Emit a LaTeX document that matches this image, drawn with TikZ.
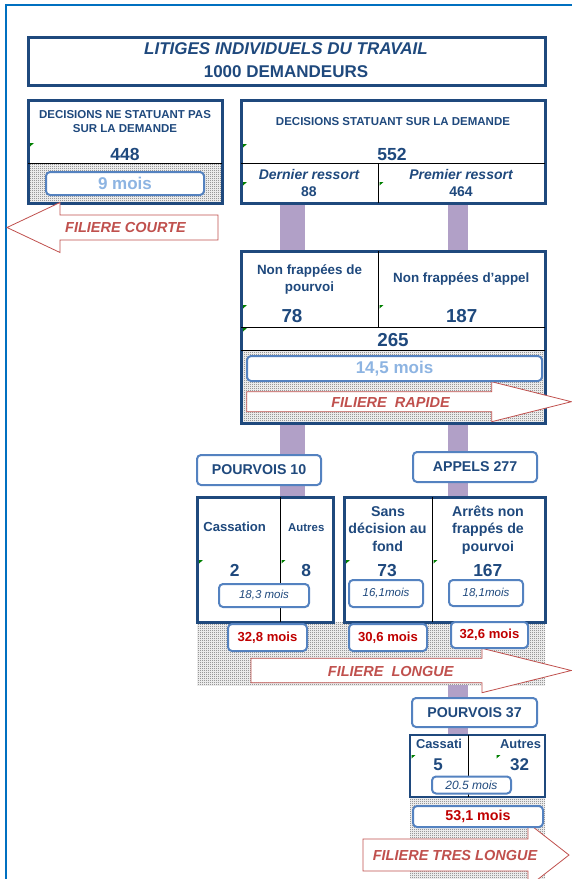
\documentclass[tikz,border=0pt]{standalone}
\usepackage{fontspec}
\setmainfont{Liberation Sans}
\usetikzlibrary{patterns}
\pgfdeclarelayer{bg}
\pgfsetlayers{bg,main}
\pgfdeclarepatternformonly{finecheck}{\pgfpointorigin}{\pgfqpoint{2pt}{2pt}}{\pgfqpoint{2pt}{2pt}}{%
  \pgfpathrectangle{\pgfpointorigin}{\pgfqpoint{1pt}{1pt}}%
  \pgfpathrectangle{\pgfqpoint{1pt}{1pt}}{\pgfqpoint{1pt}{1pt}}%
  \pgfusepath{fill}}
\definecolor{dblue}{RGB}{31,73,125}
\definecolor{mblue}{RGB}{84,130,192}
\definecolor{lblue}{RGB}{141,180,226}
\definecolor{arrred}{RGB}{192,80,77}
\definecolor{dred}{RGB}{192,0,0}
\definecolor{purp}{RGB}{177,160,199}
\definecolor{frameblue}{RGB}{0,112,192}
\definecolor{gmark}{RGB}{0,128,0}
\newcommand{\myfb}[1]{\fontsize{#1}{#1}\selectfont\bfseries}
\newcommand{\myfbi}[1]{\fontsize{#1}{#1}\selectfont\bfseries\itshape}
\newcommand{\myfit}[1]{\fontsize{#1}{#1}\selectfont\itshape}
\tikzset{
  bigbox/.style={draw=dblue, line width=3pt, inner sep=0pt, outer sep=0pt},
  thinline/.style={draw=black, line width=0.9pt},
  rbox/.style={draw=mblue, line width=2pt, rounded corners=4pt, fill=white, inner sep=0pt, outer sep=0pt},
  dotarea/.style={pattern=finecheck, pattern color=black!62, inner sep=0pt, outer sep=0pt},
  arrowshape/.style={draw=arrred, line width=0.8pt, fill=white, line join=miter},
  txt/.style={inner sep=0pt, outer sep=0pt, anchor=base, text=dblue},
  arrtxt/.style={inner sep=0pt, outer sep=0pt, anchor=base, text=arrred, font=\myfbi{14.5}},
  gm/.style={fill=gmark},
}
\begin{document}
\begin{tikzpicture}[x=1pt,y=-1pt]
\useasboundingbox (0,0) rectangle (572,879);
% frame
\draw[frameblue, line width=1.2pt] (6,879) -- (6,5) -- (572,5);

% ---------- boxes ----------
\node[bigbox, minimum width=517pt, minimum height=48pt] (title) at (286.5,61) {};
\node[bigbox, minimum width=194pt, minimum height=103pt] (lb) at (125,151.5) {};
\node[bigbox, minimum width=304pt, minimum height=103pt] (rb) at (393,151.5) {};
\node[bigbox, minimum width=304pt, minimum height=172pt] (b3) at (393,337) {};
\node[bigbox, minimum width=136pt, minimum height=125pt] (b4a) at (265,559.5) {};
\node[bigbox, minimum width=201pt, minimum height=125pt] (b4b) at (444.5,559.5) {};
\node[bigbox, line width=2pt, minimum width=135pt, minimum height=62pt] (b5) at (477.5,766) {};

% coordinates of the vertical links
\coordinate (cxL) at (292.5,0);
\coordinate (cxR) at (458,0);

\begin{pgfonlayer}{bg}
  \node[dotarea, minimum width=194pt, minimum height=40pt] (d1) at (125,183) {};
  \node[dotarea, minimum width=304pt, minimum height=73pt] (d3) at (393,386.5) {};
  \node[dotarea, minimum width=348pt, minimum height=63pt] (d4) at (371,653.5) {};
  \node[dotarea, minimum width=135pt, minimum height=82pt] (d5) at (477.5,838) {};
  \draw[purp, line width=25pt] (rb.south -| cxL) -- (b3.north -| cxL);
  \draw[purp, line width=25pt] (b3.south -| cxL) -- (b4a.north -| cxL);
  \draw[purp, line width=20pt] (rb.south -| cxR) -- (b3.north -| cxR);
  \draw[purp, line width=20pt] (b3.south -| cxR) -- (b4b.north -| cxR);
  \draw[purp, line width=20pt] (d4.south -| cxR) -- (b5.north -| cxR);
\end{pgfonlayer}

% inner lines
\draw[thinline] (28,163) -- (222,163);
\draw[thinline] (241,163) -- (545,163);
\draw[thinline] (378,163) -- (378,203);
\draw[thinline] (378,251) -- (378,327);
\draw[thinline] (241,327) -- (545,327);
\draw[thinline] (241,350) -- (545,350);
\draw[thinline] (280,497) -- (280,622);
\draw[thinline] (432,497) -- (432,622);
\draw[thinline] (468,735) -- (468,797);

% green markers
\foreach \gx/\gy in {30/143,243/144,243/182,379.5/182,243/305,379.5/305,243/328,199/560,281.5/560,346/560,433.5/560,411.5/755,496.5/755}
  \fill[gm] (\gx,\gy) -- ++(4,0) -- ++(-4,3.5) -- cycle;

% ---------- arrows ----------
\draw[arrowshape] (7,227.5) -- (60,202.5) -- (60,215) -- (218,215) -- (218,240) -- (60,240) -- (60,252.5) -- cycle;
\draw[arrowshape] (246.7,391.7) -- (491.7,391.7) -- (491.7,381.7) -- (571.3,401.7) -- (491.7,421.7) -- (491.7,411.7) -- (246.7,411.7) -- cycle;
\draw[arrowshape] (251,658.3) -- (482,658.3) -- (482,648.3) -- (571.3,670.5) -- (482,692.7) -- (482,682.7) -- (251,682.7) -- cycle;
\draw[arrowshape] (363,839) -- (528,839) -- (528,823) -- (569,855) -- (528,887) -- (528,871) -- (363,871) -- cycle;
\node[arrtxt] (fc) at (125.5,232.3) {FILIERE COURTE};
\node[arrtxt] (fr) at (390.5,407.3) {FILIERE~~RAPIDE};
\node[arrtxt] (fl) at (390.8,676) {FILIERE~~LONGUE};
\node[arrtxt] (ftl) at (455,860) {FILIERE TRES LONGUE};

% ---------- rounded boxes ----------
\node[rbox, minimum width=158pt, minimum height=23pt, text=lblue, font=\myfb{17}] (m9) at (125,183.5) {9 mois};
\node[rbox, minimum width=295pt, minimum height=25pt, text=lblue, font=\myfb{17}] (m145) at (394.5,368.5) {14,5 mois};
\node[rbox, minimum width=124pt, minimum height=30pt, text=dblue, font=\myfb{14.2}] (p10) at (259,470) {POURVOIS 10};
\node[rbox, minimum width=124pt, minimum height=30pt, text=dblue, font=\myfb{14.2}] (a277) at (475,467) {APPELS 277};
\node[rbox, minimum width=90pt, minimum height=23pt, text=dblue, font=\myfit{11.5}] (m183) at (264,595.5) {18,3 mois};
\node[rbox, minimum width=74pt, minimum height=27pt, text=dblue, font=\myfit{11.5}] (m161) at (386,593.5) {16,1mois};
\node[rbox, minimum width=74pt, minimum height=26pt, text=dblue, font=\myfit{11.5}] (m181) at (486,593) {18,1mois};
\node[rbox, minimum width=79pt, minimum height=27pt, text=dred, font=\myfb{13.1}] (m328) at (267.5,637.5) {32,8 mois};
\node[rbox, minimum width=78pt, minimum height=27pt, text=dred, font=\myfb{13.1}] (m306) at (388,637.5) {30,6 mois};
\node[rbox, minimum width=77pt, minimum height=26pt, text=dred, font=\myfb{13.1}] (m326) at (489.5,635) {32,6 mois};
\node[rbox, minimum width=125pt, minimum height=29pt, text=dblue, font=\myfb{14.2}] (p37) at (474.5,712.5) {POURVOIS 37};
\node[rbox, minimum width=79pt, minimum height=17pt, text=dblue, font=\myfit{12}, text depth=0pt, yshift=-1.5pt] (m205) at (471.5,783.5) {20.5 mois};
\node[rbox, minimum width=130pt, minimum height=21pt, text=dred, font=\myfb{14.3}] (m531) at (478,816.5) {53,1 mois};

% ---------- texts ----------
\node[txt, font=\myfbi{17}] (t1) at (286,54.3) {LITIGES INDIVIDUELS DU TRAVAIL};
\node[txt, font=\myfb{17}] (t2) at (286,77.7) {1000 DEMANDEURS};

\node[txt, font=\myfb{11.5}] (l1) at (125,118.3) {DECISIONS NE STATUANT PAS};
\node[txt, font=\myfb{11.5}] (l2) at (125,132.3) {SUR LA DEMANDE};
\node[txt, font=\myfb{17.5}] (l3) at (125,160) {448};

\node[txt, font=\myfb{11.5}] (r1) at (393,125) {DECISIONS STATUANT SUR LA DEMANDE};
\node[txt, font=\myfb{17.5}] (r2) at (392,160) {552};
\node[txt, font=\myfbi{14}] (r3) at (309,179) {Dernier ressort};
\node[txt, font=\myfb{14}] (r4) at (309,196) {88};
\node[txt, font=\myfbi{14}] (r5) at (461,179) {Premier ressort};
\node[txt, font=\myfb{14}] (r6) at (461,196) {464};

\node[txt, font=\myfb{13.4}] (n1) at (309.5,274.3) {Non frappées de};
\node[txt, font=\myfb{13.4}] (n2) at (309.5,291.7) {pourvoi};
\node[txt, font=\myfb{18.8}] (n3) at (292,322.3) {78};
\node[txt, font=\myfb{13.4}] (n4) at (461.3,282.3) {Non frappées d'appel};
\node[txt, font=\myfb{18.8}] (n5) at (461.7,322.3) {187};
\node[txt, font=\myfb{18.8}] (n6) at (393,346.7) {265};

\node[txt, font=\myfb{13.1}] (c1) at (234.7,531.7) {Cassation};
\node[txt, font=\myfb{11.4}] (c2) at (306.3,531.7) {Autres};
\node[txt, font=\myfb{17.4}] (c3) at (234.7,576) {2};
\node[txt, font=\myfb{17.4}] (c4) at (306.2,576) {8};

\node[txt, font=\myfb{14.2}] (s1) at (388,516) {Sans};
\node[txt, font=\myfb{14.2}] (s2) at (387.5,533.3) {décision au};
\node[txt, font=\myfb{14.2}] (s3) at (387.7,551) {fond};
\node[txt, font=\myfb{17.4}] (s4) at (387,576) {73};
\node[txt, font=\myfb{14.2}] (s5) at (488,516) {Arrêts non};
\node[txt, font=\myfb{14.2}] (s6) at (488,533.3) {frappés de};
\node[txt, font=\myfb{14.2}] (s7) at (488,551) {pourvoi};
\node[txt, font=\myfb{17.4}] (s8) at (487.8,576) {167};

\node[txt, font=\myfb{12.9}, anchor=base west] (e1) at (416,748.3) {Cassati};
\node[txt, font=\myfb{12.9}, anchor=base east] (e2) at (541,748.3) {Autres};
\node[txt, font=\myfb{17}] (e3) at (438,770) {5};
\node[txt, font=\myfb{17}] (e4) at (519.5,770) {32};
\end{tikzpicture}
\end{document}
